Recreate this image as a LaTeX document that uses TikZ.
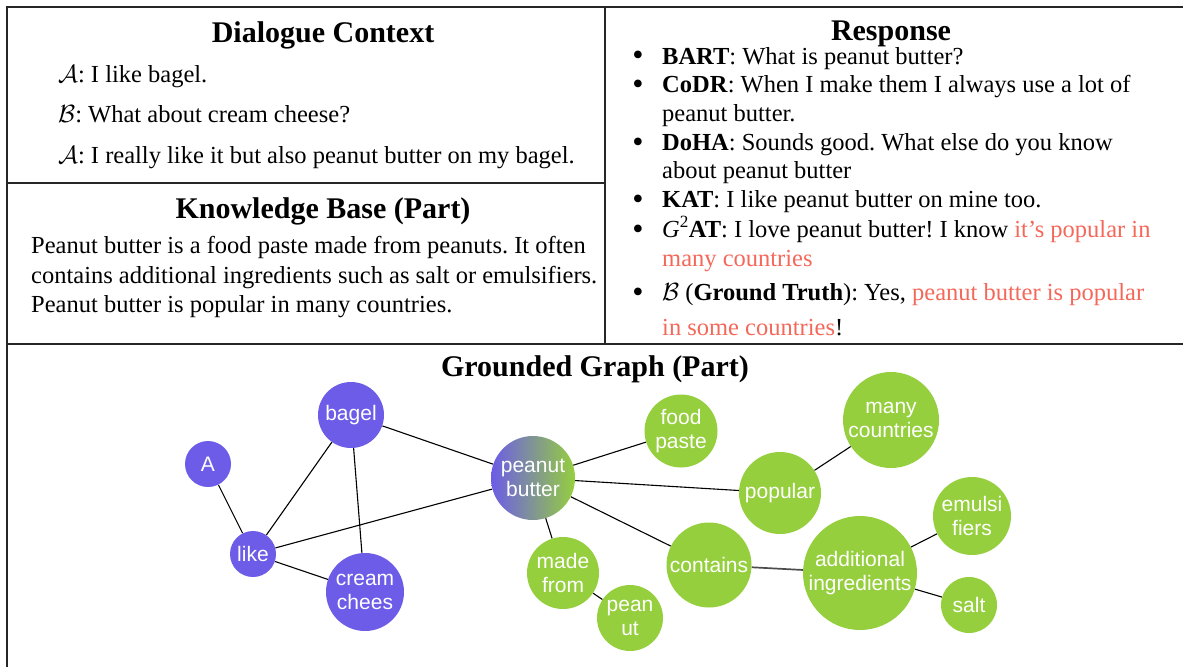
\documentclass[tikz,border=0pt]{standalone}
\usepackage{fontspec}
\setmainfont{Liberation Serif}
\newfontfamily\nodefont{Liberation Sans}
\usetikzlibrary{backgrounds}
\definecolor{gpurple}{HTML}{6C5CE7}
\definecolor{ggreen}{HTML}{95CF3E}
\definecolor{hl}{HTML}{F4685A}
\frenchspacing
\begin{document}
\begin{tikzpicture}[x=1pt,y=-1pt,
  panel/.style={line width=1.3pt, black!85},
  ttl/.style={anchor=base, font=\fontsize{30}{36}\selectfont\bfseries, inner sep=0},
  txt/.style={anchor=base west, font=\fontsize{24.5}{29}\selectfont, inner sep=0},
  bul/.style={anchor=base, font=\fontsize{32}{36}\selectfont, inner sep=0},
  gnode/.style={circle, inner sep=0, text=white, align=center, font=\nodefont\fontsize{21}{23.5}\selectfont},
  pnode/.style={gnode, fill=gpurple},
  gnd/.style={gnode, fill=ggreen},
  link/.style={line width=1.1pt, black}
]
\useasboundingbox (0,0) rectangle (1183,667);

% panels
\draw[panel] (7,667) -- (7,7) -- (1183,7);
\draw[panel] (605,7) -- (605,344);
\draw[panel] (7,183) -- (605,183);
\draw[panel] (7,344) -- (1183,344);

% Dialogue context
\node[ttl] (tdc) at (323,42) {Dialogue Context};
\node[txt] (d1) at (58,82) {$\mathcal{A}$: I like bagel.};
\node[txt] (d2) at (58,122) {$\mathcal{B}$: What about cream cheese?};
\node[txt] (d3) at (58,163) {$\mathcal{A}$: I really like it but also peanut butter on my bagel.};

% Knowledge base
\node[ttl] (tkb) at (323,218) {Knowledge Base (Part)};
\node[txt] (k1) at (31,253) {Peanut butter is a food paste made from peanuts. It often};
\node[txt] (k2) at (31,283) {contains additional ingredients such as salt or emulsifiers.};
\node[txt] (k3) at (31,312) {Peanut butter is popular in many countries.};

% Response
\node[ttl] (tr) at (891,40) {Response};
\node[bul] (b1) at (638,65) {\textbullet};
\node[bul] (b2) at (638,94) {\textbullet};
\node[bul] (b3) at (638,152) {\textbullet};
\node[bul] (b4) at (638,209) {\textbullet};
\node[bul] (b5) at (638,239) {\textbullet};
\node[bul] (b6) at (638,302) {\textbullet};
\node[txt] (r1) at (662,64) {\textbf{BART}: What is peanut butter?};
\node[txt] (r2) at (662,92) {\textbf{CoDR}: When I make them I always use a lot of};
\node[txt] (r2b) at (662,121) {peanut butter.};
\node[txt] (r3) at (662,150) {\textbf{DoHA}: Sounds good. What else do you know};
\node[txt] (r3b) at (662,178) {about peanut butter};
\node[txt] (r4) at (662,207) {\textbf{KAT}: I like peanut butter on mine too.};
\node[txt] (r5) at (662,237) {\textit{G}\textsuperscript{2}\textbf{AT}: I love peanut butter! I know \textcolor{hl}{it’s popular in}};
\node[txt] (r5b) at (662,266) {\textcolor{hl}{many countries}};
\node[txt] (r6) at (662,300) {$\mathcal{B}$ (\textbf{Ground Truth}): Yes, \textcolor{hl}{peanut butter is popular}};
\node[txt] (r6b) at (662,335) {\textcolor{hl}{in some countries}!};

% Grounded graph
\node[ttl] (tgg) at (595,376) {Grounded Graph (Part)};

\node[pnode, minimum size=46pt] (nA) at (208,464) {A};
\node[pnode, minimum size=66pt] (nbagel) at (351,415) {bagel};
\node[pnode, minimum size=46pt] (nlike) at (253,554) {like};
\node[pnode, minimum size=78pt] (ncream) at (365,592) {cream\\chees};
\node[gnode, minimum size=84pt, left color=gpurple, right color=ggreen] (npb) at (533,478) {peanut\\butter};
\node[gnd, minimum size=72pt] (nmade) at (563,573) {made\\from};
\node[gnd, minimum size=66pt] (npean) at (630,618) {pean\\ut};
\node[gnd, minimum size=73pt] (nfood) at (681,431) {food\\paste};
\node[gnd, minimum size=96pt] (nmany) at (891,420) {many\\countries};
\node[gnd, minimum size=82pt] (npop) at (780,493) {popular};
\node[gnd, minimum size=85pt] (ncont) at (709,565) {contains};
\node[gnd, minimum size=114pt] (nadd) at (860,573) {additional\\ingredients};
\node[gnd, minimum size=78pt] (nemu) at (972,516) {emulsi\\fiers};
\node[gnd, minimum size=56pt] (nsalt) at (969,605) {salt};

\begin{scope}[on background layer]
\draw[link] (nA) -- (nlike);
\draw[link] (nlike) -- (nbagel);
\draw[link] (nbagel) -- (ncream);
\draw[link] (nlike) -- (ncream);
\draw[link] (nlike) -- (npb);
\draw[link] (nbagel) -- (npb);
\draw[link] (npb) -- (nmade);
\draw[link] (nmade) -- (npean);
\draw[link] (npb) -- (nfood);
\draw[link] (npb) -- (npop);
\draw[link] (npb) -- (ncont);
\draw[link] (npop) -- (nmany);
\draw[link, line width=1.7pt, black!70] (ncont) -- (nadd);
\draw[link] (nadd) -- (nemu);
\draw[link] (nadd) -- (nsalt);
\end{scope}
\end{tikzpicture}
\end{document}
